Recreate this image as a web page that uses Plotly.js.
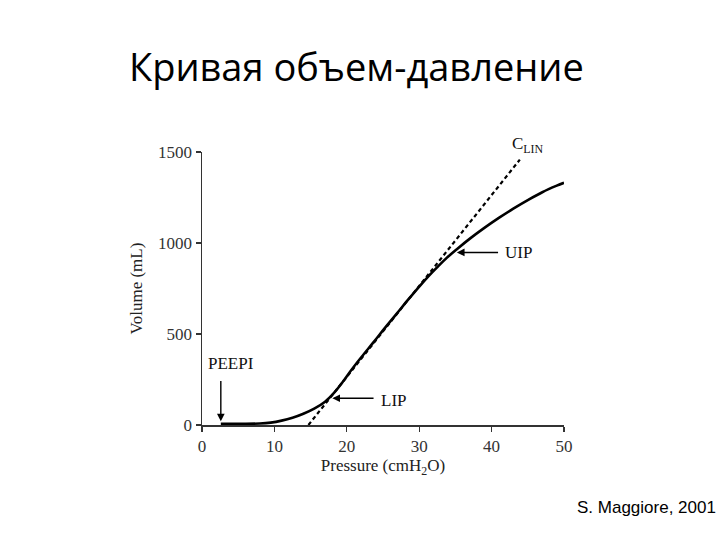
<!DOCTYPE html>
<html>
<head>
<meta charset="utf-8">
<script src="https://cdn.plot.ly/plotly-3.0.1.min.js"></script>
<style>html,body{margin:0;padding:0;background:#fff;}#chart{width:720px;height:540px;}</style>
</head>
<body>
<div id="chart"></div>
<script>
// Pressure-volume curve
const pressure = [2.6, 5, 8, 9.5, 11, 12.5, 14, 15.5, 17, 18.2, 19.5, 20.4, 22, 23.7, 25.3, 26.9, 28.5, 30.1, 31.3, 32.4, 33.8, 35.2, 37, 39, 41, 43, 45, 47, 49, 50];
const volume   = [7, 7, 8, 13, 24, 40, 62, 90, 128, 175, 240, 290, 372, 455, 535, 612, 690, 765, 818, 863, 918, 966, 1024, 1083, 1138, 1189, 1236, 1279, 1315, 1331];
// Linear compliance line (C_LIN)
const clinPressure = [14.7, 43.9];
const clinVolume   = [0, 1458];
// Tick labels
const xTicks = [0, 10, 20, 30, 40, 50];
const yTicks = [0, 500, 1000, 1500];
const chartTitle = 'Кривая объем-давление';
const citation = 'S. Maggiore, 2001';

const serif = 'Liberation Serif, Times New Roman, serif';
const traces = [
  {x: pressure, y: volume, type: 'scatter', mode: 'lines', line: {color: '#000', width: 2.6, shape: 'spline', smoothing: 1}, cliponaxis: false, hoverinfo: 'skip'},
  {x: clinPressure, y: clinVolume, type: 'scatter', mode: 'lines', line: {color: '#000', width: 2.2, dash: '4px,3px'}, cliponaxis: false, hoverinfo: 'skip'}
];

const arrowStyle = {showarrow: true, arrowhead: 2, arrowsize: 1.1, arrowwidth: 1.4, arrowcolor: '#000', axref: 'x', ayref: 'y', text: ''};
const labelFont = {family: serif, size: 17, color: '#111'};
const annotations = [
  Object.assign({x: 2.6, y: 20, ax: 2.6, ay: 250}, arrowStyle),
  Object.assign({x: 18.0, y: 147, ax: 23.9, ay: 147}, arrowStyle),
  Object.assign({x: 35.2, y: 948, ax: 41.1, ay: 948}, arrowStyle),
  {x: 4, y: 338, text: 'PEEPI', showarrow: false, xanchor: 'center', yanchor: 'middle', font: labelFont},
  {x: 24.5, y: 132, text: 'LIP', showarrow: false, xanchor: 'left', yanchor: 'middle', font: labelFont},
  {x: 41.6, y: 948, text: 'UIP', showarrow: false, xanchor: 'left', yanchor: 'middle', font: labelFont},
  {x: 42.6, xref: 'x', y: 1.025, yref: 'paper', text: 'C<sub>LIN</sub>', showarrow: false, xanchor: 'left', yanchor: 'middle', font: labelFont},
  {xref: 'paper', yref: 'paper', x: 1.425, y: -0.304, text: citation, showarrow: false, xanchor: 'right', yanchor: 'middle', font: {family: 'Liberation Sans, Arial, sans-serif', size: 17, color: '#000'}}
];

const layout = {
  width: 720, height: 540,
  paper_bgcolor: '#fff', plot_bgcolor: '#fff',
  margin: {l: 202, r: 156, t: 152, b: 115},
  showlegend: false,
  title: {text: chartTitle, x: 0.495, xref: 'container', xanchor: 'center', y: 0.874, yref: 'container', yanchor: 'middle', font: {family: 'Open Sans, Noto Sans, sans-serif', size: 38, color: '#000'}},
  xaxis: {
    range: [0, 50], tickvals: xTicks, ticktext: xTicks.map(String),
    showgrid: false, zeroline: false, showline: true, linecolor: '#333', linewidth: 1.5,
    ticks: 'outside', ticklen: 5, tickcolor: '#333', tickwidth: 1.3,
    tickfont: {family: serif, size: 17, color: '#333'},
    title: {text: 'Pressure (cmH<sub>2</sub>O)', standoff: 4, font: {family: serif, size: 17, color: '#222'}}
  },
  yaxis: {
    range: [0, 1500], tickvals: yTicks, ticktext: yTicks.map(String),
    showgrid: false, zeroline: false, showline: true, linecolor: '#333', linewidth: 1.5,
    ticks: 'outside', ticklen: 5, tickcolor: '#333', tickwidth: 1.3,
    tickfont: {family: serif, size: 17, color: '#333'},
    title: {text: 'Volume (mL)', standoff: 11, font: {family: serif, size: 17, color: '#222'}}
  },
  annotations: annotations
};

Plotly.newPlot('chart', traces, layout, {displayModeBar: false, staticPlot: true});
</script>
</body>
</html>
